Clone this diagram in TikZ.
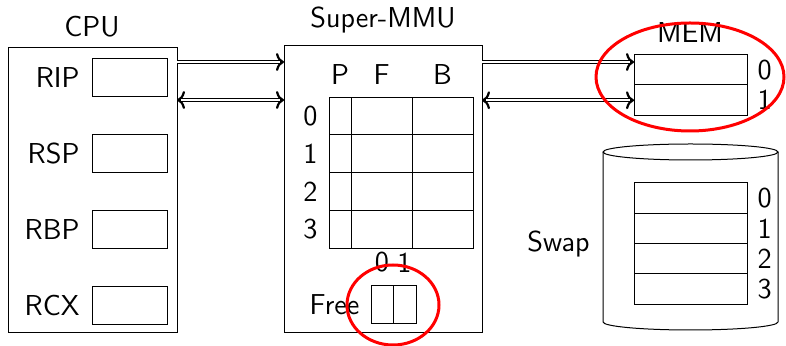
\documentclass[tikz,border=0pt]{standalone}
\usepackage{tikz}
\usetikzlibrary{positioning,calc,arrows.meta}

\begin{document}
\begin{tikzpicture}[x=0.5pt, y=-0.5pt, line width=0.5pt,
        every node/.style={font=\sffamily\Large},
        reg/.style={draw, rectangle, inner sep=0pt, outer sep=0pt, minimum width=37.5pt, minimum height=19pt},
        cell/.style={draw, rectangle, inner sep=0pt, outer sep=0pt, minimum height=18.875pt},
        slot/.style={draw, rectangle, inner sep=0pt, outer sep=0pt, minimum width=56.5pt, minimum height=15.25pt},
        tag/.style={inner sep=0pt},
        head/.tip={To[length=4pt, width=9pt, line width=1.1pt]},
        bus/.style={line width=2pt, -head, postaction={draw=white, line width=0.75pt, -, shorten >=2pt}},
        dbus/.style={line width=2pt, head-head, postaction={draw=white, line width=0.75pt, -, shorten >=2pt, shorten <=2pt}},
        ring/.style={draw=red, line width=1.5pt}]

        \useasboundingbox (0,0) rectangle (786,346);

        % CPU and its registers
        \node[draw, rectangle, minimum width=84.5pt, minimum height=142.5pt, inner sep=0pt, outer sep=0pt] (cpu) at (92.5, 190.5) {};
        \node[anchor=base] (cpulabel) at (92, 37) {CPU};
        \node[reg] (rip) at (129.5, 78) {};
        \node[reg] (rsp) at (129.5, 154) {};
        \node[reg] (rbp) at (129.5, 230) {};
        \node[reg] (rcx) at (129.5, 305.5) {};
        \node[tag, left=6pt of rip] (riplabel) {RIP};
        \node[tag, left=6pt of rsp] (rsplabel) {RSP};
        \node[tag, left=6pt of rbp] (rbplabel) {RBP};
        \node[tag, left=6pt of rcx] (rcxlabel) {RCX};

        % Super-MMU with page table and free list
        \node[draw, rectangle, minimum width=99pt, minimum height=143.5pt, inner sep=0pt, outer sep=0pt] (mmu) at (383, 189.5) {};
        \node[anchor=base] (mmulabel) at (383, 28) {Super-MMU};
        \foreach \r in {0,...,3} {
                \node[cell, minimum width=11pt] (p\r) at (340, 115.9 + 37.75*\r) {};
                \node[cell, minimum width=30.5pt] (f\r) at (381.5, 115.9 + 37.75*\r) {};
                \node[cell, minimum width=30.5pt] (b\r) at (442.5, 115.9 + 37.75*\r) {};
                \node[tag, left=5.5pt of p\r] (row\r) {\r};
        }
        \node[tag, above=6pt of p0] (phead) {P};
        \node[tag, above=6pt of f0] (fhead) {F};
        \node[tag, above=6pt of b0] (bhead) {B};

        \node[reg, minimum width=11pt] (free0) at (382, 305) {};
        \node[reg, minimum width=11.5pt] (free1) at (404.5, 305) {};
        \node[tag, above=6.5pt of free0] (free0label) {0};
        \node[tag, above=6.5pt of free1] (free1label) {1};
        \node[tag, left=5.5pt of free0] (freelabel) {Free};

        % MEM
        \node[anchor=base] (memlabel) at (690, 43) {MEM};
        \node[slot] (mem0) at (690.5, 69.75) {};
        \node[slot] (mem1) at (690.5, 100.25) {};
        \node[tag, right=5pt of mem0] (mem0label) {0};
        \node[tag, right=5pt of mem1] (mem1label) {1};

        % Swap drum
        \draw (603, 152) -- (603, 322) arc (180:0:87.5 and 8) -- (778, 152);
        \draw (690.5, 152) ellipse (87.5 and 8);
        \foreach \s in {0,...,3} {
                \node[slot] (swap\s) at (690.5, 198.1 + 30.25*\s) {};
                \node[tag, right=5pt of swap\s] (swap\s label) {\s};
        }
        \node[tag, anchor=base east] (swaplabel) at (590, 252) {Swap};

        % buses
        \draw[bus] ([yshift=-7pt]cpu.north east) -- ([yshift=-7pt]cpu.north east -| mmu.west);
        \draw[dbus] ([yshift=-26pt]cpu.north east) -- ([yshift=-26pt]cpu.north east -| mmu.west);
        \draw[bus] ([yshift=-8pt]mmu.north east) -- ([yshift=-8pt]mmu.north east -| mem0.west);
        \draw[dbus] (mmu.east |- mem1) -- (mem1.west);

        % red marks
        \draw[ring] (690, 77) ellipse (94 and 54);
        \draw[ring] (393, 305) ellipse (46 and 40);
\end{tikzpicture}
\end{document}
